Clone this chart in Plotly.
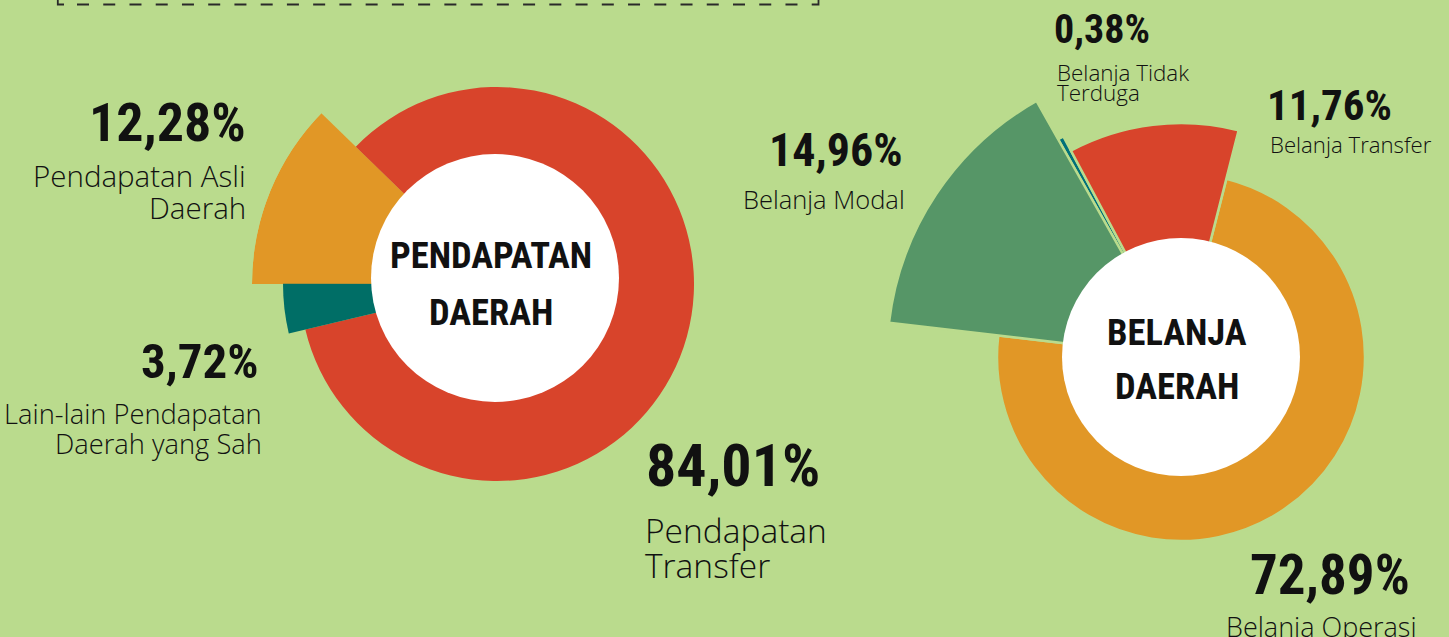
import numpy as np
import plotly.graph_objects as go

W, H = 1449, 637
BG = "#badb8d"

# ---------------- data ----------------
pend_labels = ["Pendapatan Asli Daerah", "Pendapatan Transfer",
               "Lain-lain Pendapatan Daerah yang Sah"]
pend_values = [12.28, 84.01, 3.72]
pend_text = ["12,28%", "84,01%", "3,72%"]

bel_labels = ["Belanja Operasi", "Belanja Modal", "Belanja Tidak Terduga",
              "Belanja Transfer"]
bel_values = [72.89, 14.96, 0.38, 11.76]
bel_text = ["72,89%", "14,96%", "0,38%", "11,76%"]

# ---------------- styles ----------------
pend_colors = ["#e19726", "#d8442b", "#006e66"]
pend_radius = [245, 197, 214]
pend_start = 270.0
bel_colors = ["#e19726", "#569667", "#00707a", "#d8442b"]
bel_radius = [184, 294, 250, 234]
bel_start = 14.3

PCT_FONT = "Roboto Condensed, Open Sans Condensed, DejaVu Sans Condensed, sans-serif"
LBL_FONT = "Open Sans, DejaVu Sans, sans-serif"
INK = "#111111"


def px(x):
    return x / W


def py(y):
    return 1 - y / H


def wedges(values, start):
    widths = np.asarray(values, dtype=float) / 100.0 * 360.0
    ends = start + np.cumsum(widths)
    return ends - widths / 2.0, widths


def polar_layout(cx, cy, R, sector=None):
    """Polar subplot whose pole sits at pixel (cx, cy) with 1 radial unit = 1 px."""
    if sector is None:
        x0, x1, y0, y1 = -1.0, 1.0, -1.0, 1.0
    else:
        s0, s1 = sector
        angs = list(np.linspace(s0, s1, 721))
        angs += [a for a in range(-720, 721, 90) if s0 <= a <= s1]
        xs = [0.0] + [np.cos(np.radians(a)) for a in angs]
        ys = [0.0] + [np.sin(np.radians(a)) for a in angs]
        x0, x1, y0, y1 = min(xs), max(xs), min(ys), max(ys)
    d = dict(
        domain=dict(x=[px(cx + R * x0), px(cx + R * x1)],
                    y=[py(cy - R * y0), py(cy - R * y1)]),
        bgcolor="rgba(0,0,0,0)", hole=0, bargap=0,
        angularaxis=dict(visible=False, rotation=90, direction="clockwise"),
        radialaxis=dict(visible=False, range=[0, R]),
    )
    if sector is not None:
        d["sector"] = list(sector)
    return d


fig = go.Figure()

# left donut
th, wd = wedges(pend_values, pend_start)
fig.add_trace(go.Barpolar(
    r=pend_radius, theta=th, width=wd, text=pend_labels,
    marker=dict(color=pend_colors, line=dict(width=0)),
    subplot="polar", showlegend=False, hoverinfo="text"))

# right donut (the long "Belanja Modal" wedge gets its own sector subplot)
th2, wd2 = wedges(bel_values, bel_start)
main_idx = [0, 2, 3]
big_idx = 1
fig.add_trace(go.Barpolar(
    r=[bel_radius[i] for i in main_idx], theta=th2[main_idx], width=wd2[main_idx],
    text=[bel_labels[i] for i in main_idx],
    marker=dict(color=[bel_colors[i] for i in main_idx], line=dict(width=2.5, color=BG)),
    subplot="polar2", showlegend=False, hoverinfo="text"))
fig.add_trace(go.Barpolar(
    r=[bel_radius[big_idx]], theta=[th2[big_idx]], width=[wd2[big_idx]],
    text=[bel_labels[big_idx]],
    marker=dict(color=[bel_colors[big_idx]], line=dict(width=2.5, color=BG)),
    subplot="polar3", showlegend=False, hoverinfo="text"))

g_end = 90 - (th2[big_idx] - wd2[big_idx] / 2) + 2
g_start = 90 - (th2[big_idx] + wd2[big_idx] / 2) - 2
while g_start < 0:
    g_start += 360
    g_end += 360
green_sector = (float(g_start), float(g_end))

shapes = []
# white centre discs
for (cx, cy, r) in [(495, 278, 124), (1181, 357, 119)]:
    shapes.append(dict(type="circle", xref="paper", yref="paper",
                       x0=px(cx - r), x1=px(cx + r), y0=py(cy + r), y1=py(cy - r),
                       fillcolor="white", line=dict(width=0), layer="above"))
# dashed frame bottom
LC = "#2a2a2a"
shapes.append(dict(type="line", xref="paper", yref="paper",
                   x0=px(77), x1=px(812), y0=py(4.5), y1=py(4.5),
                   line=dict(color=LC, width=1.8, dash="12px,14.24px")))
shapes.append(dict(type="path", xref="paper", yref="paper",
                   path=f"M{px(57.8)},{py(-1)} L{px(57.8)},{py(4.5)} L{px(64)},{py(4.5)}",
                   line=dict(color=LC, width=1.8)))
shapes.append(dict(type="path", xref="paper", yref="paper",
                   path=f"M{px(812)},{py(4.5)} L{px(818.5)},{py(4.5)} L{px(818.5)},{py(-1)}",
                   line=dict(color=LC, width=1.8)))

ann = []


def add(text, x, y, size, anchor, family, weight=400):
    ann.append(dict(text=text, x=px(x), y=py(y), xref="paper", yref="paper",
                    xanchor=anchor, yanchor="middle", showarrow=False,
                    font=dict(family=family, size=size, color=INK, weight=weight)))


# left donut labels
add(pend_text[0], 248, 122, 54, "right", PCT_FONT, 700)
add("Pendapatan Asli", 248, 175, 29.5, "right", LBL_FONT, 300)
add("Daerah", 248, 207, 29.5, "right", LBL_FONT, 300)
add(pend_text[2], 261, 362, 49, "right", PCT_FONT, 700)
add("Lain-lain Pendapatan", 264, 413, 27.3, "right", LBL_FONT, 300)
add("Daerah yang Sah", 264, 443, 27.3, "right", LBL_FONT, 300)
add(pend_text[1], 644, 465, 60, "left", PCT_FONT, 700)
add("Pendapatan", 643, 530, 33.5, "left", LBL_FONT, 300)
add("Transfer", 643, 565, 33.5, "left", LBL_FONT, 300)
add("PENDAPATAN", 491, 255, 36.5, "center", PCT_FONT, 700)
add("DAERAH", 491, 312, 36.5, "center", PCT_FONT, 700)

# right donut labels
add(bel_text[2], 1052, 30, 40, "left", PCT_FONT, 700)
add("Belanja Tidak", 1055, 73, 22.4, "left", LBL_FONT, 300)
add("Terduga", 1055, 92.5, 22.4, "left", LBL_FONT, 300)
add(bel_text[3], 1265, 104.5, 43, "left", PCT_FONT, 700)
add("Belanja Transfer", 1268, 144, 22.2, "left", LBL_FONT, 300)
add(bel_text[1], 905, 150, 46, "right", PCT_FONT, 700)
add("Belanja Modal", 907, 199, 25.5, "right", LBL_FONT, 300)
add("BELANJA", 1177, 332, 36.5, "center", PCT_FONT, 700)
add("DAERAH", 1177, 386, 36.5, "center", PCT_FONT, 700)
add(bel_text[0], 1412, 575, 55, "right", PCT_FONT, 700)
add("Belanja Operasi", 1419, 626, 27, "right", LBL_FONT, 300)

fig.update_layout(
    width=W, height=H, autosize=False,
    margin=dict(l=0, r=0, t=0, b=0, pad=0),
    paper_bgcolor=BG, plot_bgcolor=BG,
    polar=polar_layout(497, 284, 245),
    polar2=polar_layout(1181, 357, 260),
    polar3=polar_layout(1181, 357, 300, sector=green_sector),
    shapes=shapes, annotations=ann, showlegend=False,
)

fig.write_html("out.html", config={"displayModeBar": False},
               post_script="document.body.style.margin='0';document.body.style.overflow='hidden';")
